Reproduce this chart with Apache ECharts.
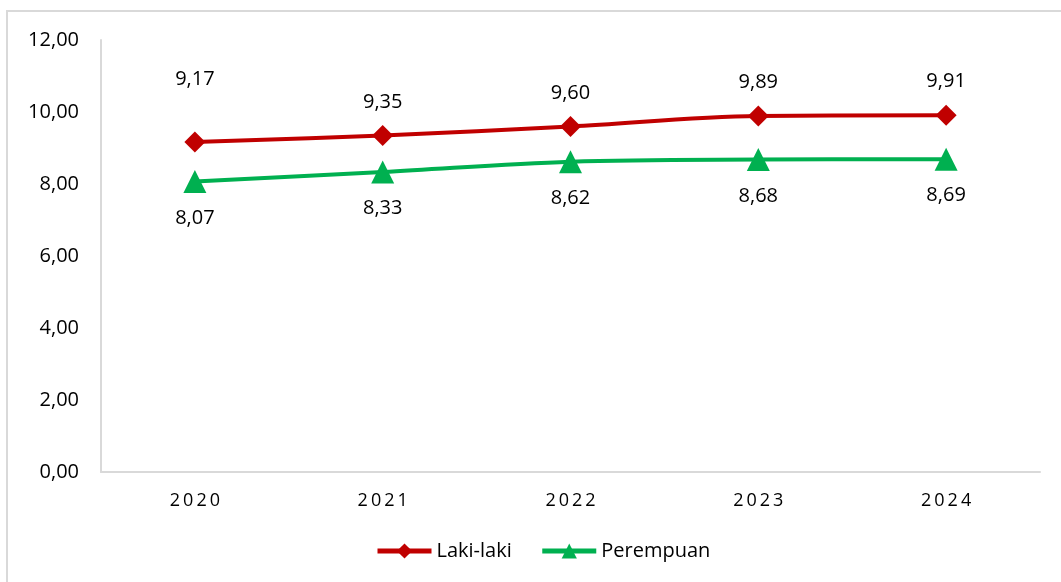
<!DOCTYPE html>
<html>
<head>
<meta charset="utf-8">
<script src="https://cdn.jsdelivr.net/npm/echarts@6/dist/echarts.min.js"></script>
<style>
html,body{margin:0;padding:0;background:#fff;}
#chart{width:1061px;height:582px;}
</style>
</head>
<body>
<div id="chart"></div>
<script>
var categories = ['2020', '2021', '2022', '2023', '2024'];
var lakiLaki = [9.17, 9.35, 9.60, 9.89, 9.91];
var perempuan = [8.07, 8.33, 8.62, 8.68, 8.69];
var seriesNames = ['Laki-laki', 'Perempuan'];

var fmt = function (v) { return v.toFixed(2).replace('.', ','); };
var spaced = function (s) {
  return s.split('').map(function (c) { return '{d|' + c + '}'; }).join('');
};

var chart = echarts.init(document.getElementById('chart'), null, {renderer: 'canvas'});

var redData = lakiLaki.map(function (v, i) {
  return {value: v, label: {distance: i === 0 ? 42 : 13}};
});

chart.setOption({
  animation: false,
  backgroundColor: '#ffffff',
  textStyle: {fontFamily: 'Open Sans'},
  graphic: [{
    type: 'rect',
    shape: {x: 7, y: 11, width: 1200, height: 700},
    style: {fill: 'none', stroke: '#d9d9d9', lineWidth: 2},
    silent: true,
    z: -10
  }],
  grid: {left: 101, right: 21, top: 40, bottom: 110, containLabel: false},
  legend: {
    data: seriesNames,
    bottom: 16,
    left: 370,
    itemWidth: 54,
    itemHeight: 19,
    itemGap: 28,
    lineStyle: {width: 5},
    textStyle: {fontSize: 20, color: '#000', fontFamily: 'Open Sans'}
  },
  xAxis: {
    type: 'category',
    data: categories,
    boundaryGap: true,
    axisLine: {lineStyle: {color: '#d9d9d9', width: 2}},
    axisTick: {show: false},
    axisLabel: {
      interval: 0,
      fontSize: 18, color: '#000', margin: 20,
      formatter: spaced,
      rich: {d: {fontSize: 18, color: '#000', fontFamily: 'Open Sans', padding: [0, 1.5, 0, 1.5]}}
    }
  },
  yAxis: {
    type: 'value',
    min: 0,
    max: 12,
    interval: 2,
    axisLine: {show: true, lineStyle: {color: '#d9d9d9', width: 2}},
    axisTick: {show: false},
    splitLine: {show: false},
    axisLabel: {fontSize: 20, color: '#000', margin: 22, formatter: fmt}
  },
  series: [
    {
      name: seriesNames[0],
      type: 'line',
      data: redData,
      smooth: 0.35,
      symbol: 'diamond',
      symbolSize: 21,
      color: '#C00000',
      lineStyle: {width: 4, color: '#C00000'},
      itemStyle: {color: '#C00000'},
      label: {
        show: true,
        position: 'top',
        fontSize: 20,
        color: '#000',
        fontFamily: 'Open Sans',
        formatter: function (p) { return fmt(p.value); }
      }
    },
    {
      name: seriesNames[1],
      type: 'line',
      data: perempuan,
      smooth: 0.35,
      symbol: 'triangle',
      symbolSize: 23,
      color: '#00B050',
      lineStyle: {width: 4, color: '#00B050'},
      itemStyle: {color: '#00B050'},
      label: {
        show: true,
        position: 'bottom',
        distance: 15,
        fontSize: 20,
        color: '#000',
        fontFamily: 'Open Sans',
        formatter: function (p) { return fmt(p.value); }
      }
    }
  ]
});
</script>
</body>
</html>
